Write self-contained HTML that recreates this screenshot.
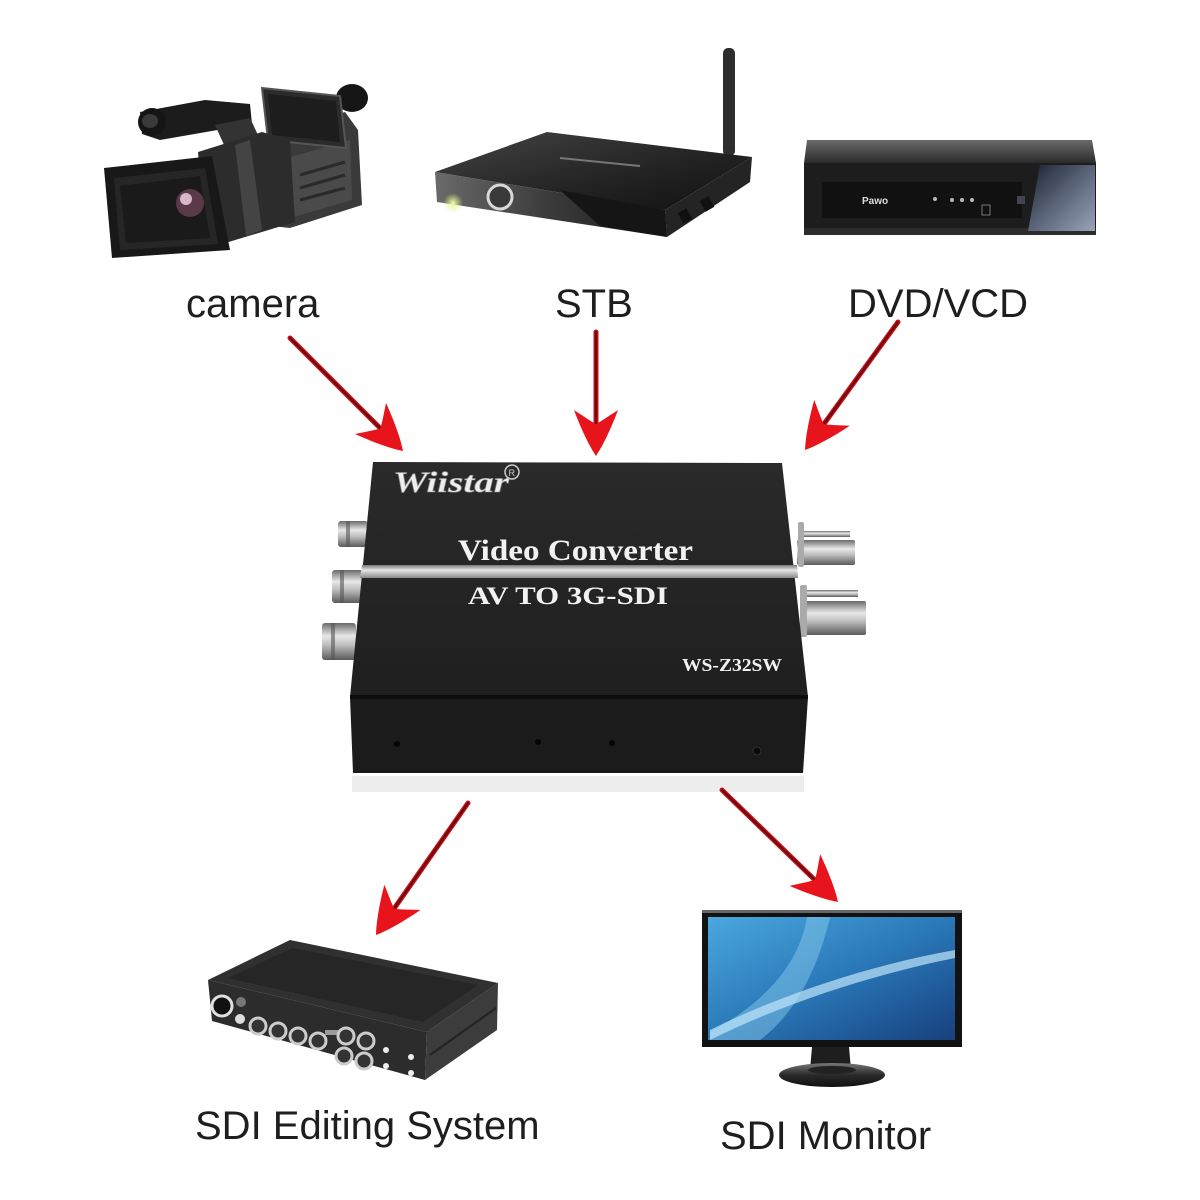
<!DOCTYPE html>
<html>
<head>
<meta charset="utf-8">
<style>
  html,body{margin:0;padding:0;background:#fff;}
  svg{display:block;}
  .lbl{font-family:"Liberation Sans",sans-serif;font-size:40px;fill:#1e1e1e;}
  .srf{font-family:"Liberation Serif",serif;font-weight:bold;fill:#f2f2f2;}
</style>
</head>
<body>
<svg width="1200" height="1200" viewBox="0 0 1200 1200" xmlns="http://www.w3.org/2000/svg">
  <defs>
    <linearGradient id="silverV" x1="0" y1="0" x2="0" y2="1">
      <stop offset="0" stop-color="#6a6a6a"/>
      <stop offset="0.35" stop-color="#e8e8e8"/>
      <stop offset="0.6" stop-color="#bdbdbd"/>
      <stop offset="1" stop-color="#5a5a5a"/>
    </linearGradient>
    <linearGradient id="stripe" x1="0" y1="0" x2="0" y2="1">
      <stop offset="0" stop-color="#777"/>
      <stop offset="0.4" stop-color="#e6e6e6"/>
      <stop offset="1" stop-color="#888"/>
    </linearGradient>
    <linearGradient id="boxTop" x1="0" y1="0" x2="0" y2="1">
      <stop offset="0" stop-color="#2a2a2a"/>
      <stop offset="1" stop-color="#1f1f1f"/>
    </linearGradient>
    <linearGradient id="stbTop" x1="0" y1="0" x2="1" y2="1">
      <stop offset="0" stop-color="#444"/>
      <stop offset="0.6" stop-color="#222"/>
      <stop offset="1" stop-color="#111"/>
    </linearGradient>
    <linearGradient id="stbFront" x1="0" y1="0" x2="1" y2="0">
      <stop offset="0" stop-color="#6a6a6a"/>
      <stop offset="0.5" stop-color="#3a3a3a"/>
      <stop offset="1" stop-color="#1a1a1a"/>
    </linearGradient>
    <linearGradient id="dvdTop" x1="0" y1="0" x2="0" y2="1">
      <stop offset="0" stop-color="#6a6a6a"/>
      <stop offset="1" stop-color="#2a2a2a"/>
    </linearGradient>
    <linearGradient id="dvdGloss" x1="0" y1="0" x2="1" y2="1">
      <stop offset="0" stop-color="#1a2030"/>
      <stop offset="0.5" stop-color="#5a6478"/>
      <stop offset="1" stop-color="#9aa4b8"/>
    </linearGradient>
    <linearGradient id="screen" x1="0" y1="0" x2="1" y2="1">
      <stop offset="0" stop-color="#4aa8de"/>
      <stop offset="0.5" stop-color="#2a78b8"/>
      <stop offset="1" stop-color="#17407e"/>
    </linearGradient>
    <radialGradient id="led">
      <stop offset="0" stop-color="#f4ffb0"/>
      <stop offset="1" stop-color="#cfe870" stop-opacity="0"/>
    </radialGradient>
    <linearGradient id="base" x1="0" y1="0" x2="0" y2="1">
      <stop offset="0" stop-color="#777"/>
      <stop offset="0.5" stop-color="#2a2a2a"/>
      <stop offset="1" stop-color="#111"/>
    </linearGradient>
  </defs>

  <!-- ============ CAMERA ============ -->
  <g>
    <!-- handle -->
    <path d="M140,112 L205,100 L250,104 L252,124 L160,140 L142,134 Z" fill="#1c1c1c"/>
    <ellipse cx="152" cy="122" rx="14" ry="14" fill="#151515"/>
    <ellipse cx="150" cy="121" rx="8" ry="7" fill="#3a3a3a"/>
    <!-- mount -->
    <path d="M215,125 L250,118 L265,150 L230,158 Z" fill="#333"/>
    <!-- body -->
    <path d="M255,140 L345,112 L358,130 L362,205 L290,228 L262,225 Z" fill="#3a3a3a"/>
    <path d="M280,160 L350,140 L352,200 L290,218 Z" fill="#4a4a4a"/>
    <path d="M300,175 L345,162 M300,188 L345,175 M300,200 L345,188" stroke="#2a2a2a" stroke-width="3"/>
    <!-- eyepiece -->
    <ellipse cx="352" cy="98" rx="16" ry="14" fill="#161616"/>
    <!-- LCD -->
    <path d="M262,88 L340,96 L346,148 L268,140 Z" fill="#2b2b2b" stroke="#555" stroke-width="2"/>
    <path d="M268,94 L336,101 L340,142 L272,135 Z" fill="#1d1d1d"/>
    <!-- barrel -->
    <path d="M198,152 L262,132 L290,140 L295,222 L222,244 L205,240 Z" fill="#2c2c2c"/>
    <path d="M235,145 L250,140 L262,230 L246,236 Z" fill="#444"/>
    <!-- hood -->
    <path d="M104,168 L212,156 L230,250 L112,258 Z" fill="#181818"/>
    <path d="M114,178 L205,168 L218,244 L120,250 Z" fill="#262626"/>
    <path d="M120,186 L200,176 L210,238 L126,243 Z" fill="#1a1a1a"/>
    <circle cx="190" cy="203" r="14" fill="#5a3a48"/>
    <circle cx="186" cy="199" r="6" fill="#d8b8c8"/>
  </g>

  <!-- ============ STB ============ -->
  <g>
    <rect x="723" y="48" width="12" height="108" rx="5" fill="#2e2e2e"/>
    <path d="M435,172 L547,132 L752,157 L665,210 Z" fill="url(#stbTop)"/>
    <path d="M560,158 L640,166" stroke="#777" stroke-width="2"/>
    <path d="M435,172 L665,210 L667,237 L437,202 Z" fill="url(#stbFront)"/>
    <path d="M560,190 L665,210 L667,237 L600,226 Z" fill="#151515"/>
    <path d="M665,210 L752,157 L750,182 L667,237 Z" fill="#242424"/>
    <rect x="680" y="210" width="10" height="12" fill="#111" transform="rotate(-30 685 216)"/>
    <rect x="702" y="198" width="10" height="12" fill="#111" transform="rotate(-30 707 204)"/>
    <circle cx="500" cy="197" r="12" fill="#3a3a3a" stroke="#d8d8d8" stroke-width="3"/>
    <circle cx="453" cy="203" r="10" fill="url(#led)"/>
  </g>

  <!-- ============ DVD ============ -->
  <g>
    <path d="M807,140 L1092,140 L1096,163 L804,163 Z" fill="url(#dvdTop)"/>
    <rect x="804" y="163" width="292" height="72" fill="#1d1d1d"/>
    <rect x="804" y="228" width="292" height="7" fill="#2c2c2c"/>
    <rect x="822" y="182" width="200" height="36" fill="#111"/>
    <path d="M1040,165 L1095,165 L1095,231 L1028,231 Z" fill="url(#dvdGloss)"/>
    <text x="862" y="204" font-family="Liberation Sans,sans-serif" font-size="10" font-weight="bold" fill="#ddd">Pawo</text>
    <circle cx="935" cy="199" r="2" fill="#bbb"/>
    <circle cx="952" cy="200" r="2" fill="#bbb"/>
    <circle cx="962" cy="200" r="2" fill="#bbb"/>
    <circle cx="972" cy="200" r="2" fill="#bbb"/>
    <rect x="982" y="205" width="8" height="10" fill="none" stroke="#777" stroke-width="1"/>
    <rect x="1017" y="196" width="8" height="8" fill="#445"/>
  </g>

  <!-- ============ TOP LABELS ============ -->
  <text class="lbl" x="186" y="317">camera</text>
  <text class="lbl" x="555" y="317">STB</text>
  <text class="lbl" x="848" y="317">DVD/VCD</text>

  <!-- ============ CONVERTER ============ -->
  <g>
    <rect x="352" y="776" width="452" height="16" fill="#ededed"/>
    <!-- left RCA -->
    <rect x="338" y="521" width="30" height="26" rx="3" fill="url(#silverV)"/>
    <rect x="346" y="521" width="4" height="26" fill="#555" opacity="0.6"/>
    <rect x="332" y="570" width="32" height="33" rx="3" fill="url(#silverV)"/>
    <rect x="340" y="570" width="4" height="33" fill="#555" opacity="0.6"/>
    <rect x="322" y="623" width="34" height="37" rx="3" fill="url(#silverV)"/>
    <rect x="331" y="623" width="4" height="37" fill="#555" opacity="0.6"/>
    <!-- right BNC -->
    <rect x="798" y="531" width="52" height="6" fill="url(#silverV)"/>
    <rect x="797" y="540" width="58" height="25" rx="2" fill="url(#silverV)"/>
    <rect x="798" y="522" width="6" height="45" rx="2" fill="#aaa"/>
    <rect x="800" y="590" width="58" height="7" fill="url(#silverV)"/>
    <rect x="800" y="601" width="66" height="34" rx="2" fill="url(#silverV)"/>
    <rect x="800" y="585" width="7" height="52" rx="2" fill="#aaa"/>
    <!-- box -->
    <path d="M373,462 L782,463 L808,697 L350,697 Z" fill="url(#boxTop)"/>
    <path d="M350,697 L808,697 L803,773 L353,773 Z" fill="#1b1b1b"/>
    <path d="M350,697 L808,697" stroke="#0c0c0c" stroke-width="4"/>
    <path d="M362,565 L797,565 L798,578 L360,578 Z" fill="url(#stripe)"/>
    <!-- logo -->
    <text x="393" y="492" font-family="Liberation Serif,serif" font-style="italic" font-weight="bold" font-size="30" fill="#eee" stroke="#888" stroke-width="0.6" textLength="116" lengthAdjust="spacingAndGlyphs">Wiistar</text>
    <circle cx="512" cy="472" r="7" fill="none" stroke="#ccc" stroke-width="1.5"/>
    <text x="508.5" y="476" font-family="Liberation Sans,sans-serif" font-size="9" fill="#ccc">R</text>
    <text class="srf" x="458" y="560" font-size="30" textLength="235" lengthAdjust="spacingAndGlyphs">Video Converter</text>
    <text class="srf" x="468" y="604" font-size="25" textLength="200" lengthAdjust="spacingAndGlyphs">AV TO 3G-SDI</text>
    <text class="srf" x="682" y="671" font-size="18" textLength="100" lengthAdjust="spacingAndGlyphs">WS-Z32SW</text>
    <!-- dots -->
    <circle cx="397" cy="744" r="3" fill="#050505"/>
    <circle cx="538" cy="742" r="3" fill="#050505"/>
    <circle cx="612" cy="743" r="3" fill="#050505"/>
    <circle cx="757" cy="751" r="4" fill="#0a0a0a" stroke="#333" stroke-width="1"/>
  </g>

  <!-- ============ SDI EDITING BOX ============ -->
  <g>
    <path d="M208,980 L290,940 L498,983 L427,1032 Z" fill="#303030"/>
    <path d="M228,978 L292,948 L478,985 L423,1022 Z" fill="#262626"/>
    <path d="M208,980 L427,1032 L425,1080 L212,1021 Z" fill="#2c2c2c"/>
    <path d="M427,1032 L498,983 L497,1030 L425,1080 Z" fill="#3c3c3c"/>
    <path d="M430,1055 L496,1008" stroke="#222" stroke-width="2"/>
    <circle cx="222" cy="1006" r="10" fill="#111" stroke="#e0e0e0" stroke-width="3"/>
    <circle cx="241" cy="1002" r="5" fill="#777"/>
    <circle cx="240" cy="1019" r="5" fill="#ddd"/>
    <circle cx="258" cy="1026" r="8" fill="#333" stroke="#ccc" stroke-width="3"/>
    <circle cx="278" cy="1031" r="8" fill="#333" stroke="#ccc" stroke-width="3"/>
    <circle cx="298" cy="1036" r="8" fill="#333" stroke="#ccc" stroke-width="3"/>
    <circle cx="318" cy="1041" r="8" fill="#333" stroke="#ccc" stroke-width="3"/>
    <rect x="325" y="1030" width="14" height="5" fill="#999"/>
    <circle cx="346" cy="1036" r="8" fill="#333" stroke="#ccc" stroke-width="3"/>
    <circle cx="366" cy="1041" r="8" fill="#333" stroke="#ccc" stroke-width="3"/>
    <circle cx="344" cy="1056" r="8" fill="#333" stroke="#ccc" stroke-width="3"/>
    <circle cx="364" cy="1061" r="8" fill="#333" stroke="#ccc" stroke-width="3"/>
    <circle cx="386" cy="1050" r="3" fill="#eee"/>
    <circle cx="411" cy="1057" r="3" fill="#eee"/>
    <circle cx="386" cy="1066" r="3" fill="#eee"/>
    <circle cx="411" cy="1073" r="3" fill="#eee"/>
  </g>

  <!-- ============ MONITOR ============ -->
  <g>
    <rect x="702" y="910" width="260" height="137" fill="#121212"/>
    <rect x="702" y="910" width="260" height="3" fill="#666"/>
    <rect x="708" y="917" width="247" height="123" fill="url(#screen)"/>
    <path d="M807,917 C800,960 770,1000 710,1032 L710,1040 L760,1040 C800,1010 820,960 830,917 Z" fill="#8fd0f0" opacity="0.45"/>
    <path d="M710,1030 C780,995 870,965 955,950 L955,958 C870,975 780,1005 710,1040 Z" fill="#bfe6fa" opacity="0.7"/>
    <path d="M812,1047 L849,1047 L851,1070 L810,1070 Z" fill="#1e1e1e"/>
    <ellipse cx="832" cy="1075" rx="53" ry="12" fill="url(#base)"/>
    <ellipse cx="832" cy="1070" rx="24" ry="4" fill="#222"/>
  </g>

  <!-- ============ BOTTOM LABELS ============ -->
  <text class="lbl" x="195" y="1139">SDI Editing System</text>
  <text class="lbl" x="720" y="1149">SDI Monitor</text>

  <!-- ============ ARROWS ============ -->
  <g>
    <!-- camera -->
    <line x1="290" y1="338" x2="384" y2="432" stroke="#d0101a" stroke-width="5" stroke-linecap="round"/>
    <line x1="290" y1="338" x2="384" y2="432" stroke="#6e0a0e" stroke-width="2.5" stroke-linecap="round"/>
    <path d="M0,0 C-12,-8 -30,-16 -46,-22 C-38,-10 -34,-4 -32,0 C-34,4 -38,10 -46,22 C-30,16 -12,8 0,0Z" fill="#e8141c" transform="translate(403,451) rotate(45)"/>
    <!-- STB -->
    <line x1="596" y1="332" x2="596" y2="430" stroke="#d0101a" stroke-width="5" stroke-linecap="round"/>
    <line x1="596" y1="332" x2="596" y2="430" stroke="#6e0a0e" stroke-width="2.5" stroke-linecap="round"/>
    <path d="M0,0 C-12,-8 -30,-16 -46,-22 C-38,-10 -34,-4 -32,0 C-34,4 -38,10 -46,22 C-30,16 -12,8 0,0Z" fill="#e8141c" transform="translate(596,456) rotate(90)"/>
    <!-- DVD -->
    <line x1="898" y1="322" x2="821" y2="428" stroke="#d0101a" stroke-width="5" stroke-linecap="round"/>
    <line x1="898" y1="322" x2="821" y2="428" stroke="#6e0a0e" stroke-width="2.5" stroke-linecap="round"/>
    <path d="M0,0 C-12,-8 -30,-16 -46,-22 C-38,-10 -34,-4 -32,0 C-34,4 -38,10 -46,22 C-30,16 -12,8 0,0Z" fill="#e8141c" transform="translate(805,450) rotate(126)"/>
    <!-- editing -->
    <line x1="468" y1="803" x2="391" y2="913" stroke="#d0101a" stroke-width="5" stroke-linecap="round"/>
    <line x1="468" y1="803" x2="391" y2="913" stroke="#6e0a0e" stroke-width="2.5" stroke-linecap="round"/>
    <path d="M0,0 C-12,-8 -30,-16 -46,-22 C-38,-10 -34,-4 -32,0 C-34,4 -38,10 -46,22 C-30,16 -12,8 0,0Z" fill="#e8141c" transform="translate(376,935) rotate(125)"/>
    <!-- monitor -->
    <line x1="722" y1="790" x2="818" y2="883" stroke="#d0101a" stroke-width="5" stroke-linecap="round"/>
    <line x1="722" y1="790" x2="818" y2="883" stroke="#6e0a0e" stroke-width="2.5" stroke-linecap="round"/>
    <path d="M0,0 C-12,-8 -30,-16 -46,-22 C-38,-10 -34,-4 -32,0 C-34,4 -38,10 -46,22 C-30,16 -12,8 0,0Z" fill="#e8141c" transform="translate(838,902) rotate(44)"/>
  </g>
</svg>
</body>
</html>
